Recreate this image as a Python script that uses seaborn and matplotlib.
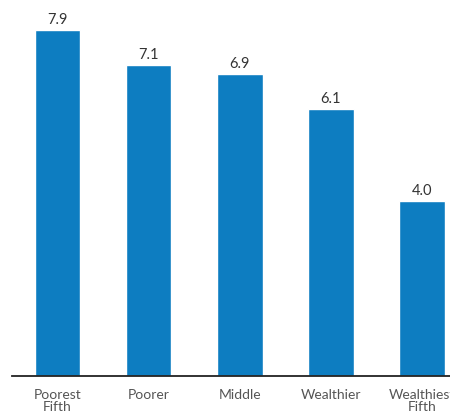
import matplotlib
matplotlib.use("Agg")
import matplotlib.pyplot as plt
import seaborn as sns
import pandas as pd

# data
groups = ["Poorest\nFifth", "Poorer", "Middle", "Wealthier", "Wealthiest\nFifth"]
values = [7.9, 7.1, 6.9, 6.1, 4.0]

sns.set_style("white")
plt.rcParams["font.family"] = ["Lato", "DejaVu Sans"]

df = pd.DataFrame({"group": groups, "value": values})

fig = plt.figure(figsize=(4.5, 4.11), dpi=100)
# axes deliberately runs past the right edge, like the clipped original
ax = fig.add_axes([12 / 450, 1 - 376 / 411, 455.5 / 450, 376 / 411])

sns.barplot(data=df, x="group", y="value", color="#0d7dc1", width=0.5,
            saturation=1, ax=ax)

for i, v in enumerate(values):
    ax.text(i, v + 0.07, f"{v:.1f}", ha="center", va="bottom",
            fontsize=10.5, color="#333333")

ax.set_xlim(-0.5, 4.5)
ax.set_ylim(0, 376 / 43.8)
ax.set_xlabel("")
ax.set_ylabel("")
ax.set_yticks([])
for s in ["top", "right", "left"]:
    ax.spines[s].set_visible(False)
ax.spines["bottom"].set_color("#222222")
ax.spines["bottom"].set_linewidth(1.3)
ax.tick_params(axis="x", length=0, pad=9, labelsize=10, labelcolor="#555555")
for lab in ax.get_xticklabels():
    lab.set_linespacing(1.05)

fig.savefig("out.png", dpi=100)
